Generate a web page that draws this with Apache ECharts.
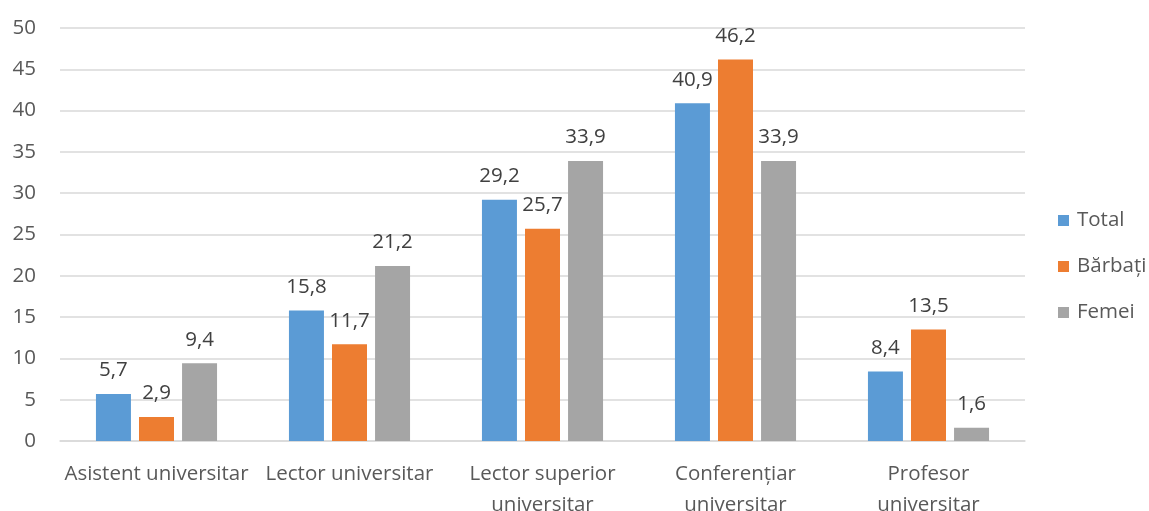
<!DOCTYPE html>
<html><head><meta charset="utf-8">
<script src="https://cdn.jsdelivr.net/npm/echarts@6/dist/echarts.min.js"></script>
<style>html,body{margin:0;padding:0;background:#fff}#c{width:1149px;height:511px}</style>
</head><body><div id="c"></div>
<script>
const categories = ["Asistent universitar", "Lector universitar", "Lector superior\nuniversitar", "Conferențiar\nuniversitar", "Profesor\nuniversitar"];
const seriesNames = ["Total", "Bărbați", "Femei"];
const total = [5.7, 15.8, 29.2, 40.9, 8.4];
const barbati = [2.9, 11.7, 25.7, 46.2, 13.5];
const femei = [9.4, 21.2, 33.9, 33.9, 1.6];
const colors = ["#5B9BD5", "#ED7D31", "#A5A5A5"];
const yTicks = {min: 0, max: 50, interval: 5};

const font = "'Open Sans', sans-serif";
const chart = echarts.init(document.getElementById('c'));
const mk = (name, data, color) => ({
  name, type: 'bar', data, barWidth: 35, barGap: '23%',
  itemStyle: {color},
  label: {show: true, position: 'top', distance: 13, color: '#404040', fontSize: 20.5, fontFamily: font,
    formatter: p => String(p.value).replace('.', ',')}
});
chart.setOption({
  animation: false,
  textStyle: {fontFamily: font},
  grid: {left: 60, right: 124, top: 28, bottom: 70, outerBoundsMode: 'none', containLabel: false},
  legend: {orient: 'vertical', left: 1053, top: 205, itemWidth: 11, itemHeight: 11, itemGap: 25,
    icon: 'rect', textStyle: {fontSize: 20.5, color: '#595959', fontFamily: font, padding: [0, 0, 0, 3]}, data: seriesNames},
  xAxis: {type: 'category', data: categories,
    axisLine: {lineStyle: {color: '#D9D9D9', width: 1.5}}, axisTick: {show: false},
    axisLabel: {color: '#595959', fontSize: 20.5, fontFamily: font, margin: 18, lineHeight: 31, interval: 0}},
  yAxis: {type: 'value', min: yTicks.min, max: yTicks.max, interval: yTicks.interval,
    axisLine: {show: false}, axisTick: {show: false},
    splitLine: {lineStyle: {color: '#D9D9D9', width: 1.5}},
    axisLabel: {color: '#595959', fontSize: 20.5, fontFamily: font, margin: 24}},
  series: [mk(seriesNames[0], total, colors[0]), mk(seriesNames[1], barbati, colors[1]), mk(seriesNames[2], femei, colors[2])]
});
</script></body></html>
